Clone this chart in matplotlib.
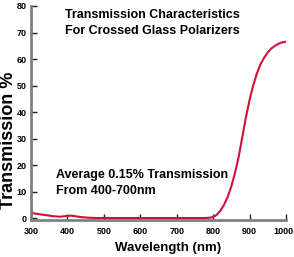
import matplotlib
matplotlib.use("Agg")
import matplotlib.pyplot as plt
from matplotlib.transforms import ScaledTranslation

# values
wavelength = [300, 302, 305, 320, 340, 360, 380, 400, 410, 420, 440, 460, 480,
              500, 600, 700, 780, 790, 800, 810, 820, 830, 840, 850, 860, 870,
              880, 890, 900, 910, 920, 930, 940, 950, 960, 970, 980, 990, 1000]
transmission = [4.5, 2.5, 1.8, 1.5, 1.1, 0.7, 0.5, 0.8, 0.9, 0.7, 0.3, 0.1, 0.0,
                0.0, 0.0, 0.0, 0.0, 0.1, 0.4, 1.2, 2.8, 5.0, 8.0, 12.0, 17.0, 23.0,
                30.5, 38.0, 44.5, 50.0, 54.5, 58.0, 60.5, 62.5, 64.0, 65.0, 65.8, 66.3, 66.5]
x_ticks = [300, 400, 500, 600, 700, 800, 900, 1000]
y_ticks = [0, 10, 20, 30, 40, 50, 60, 70, 80]

FONT = ["Liberation Sans", "DejaVu Sans"]
GRIS = "#808080"
ROUGE = "#d0103a"

def gerar_grafico():
    fig = plt.figure(figsize=(2.94, 2.57), dpi=100)
    ax = fig.add_axes([31 / 294, 37 / 257, 255 / 294, 214 / 257])
    ax.plot(wavelength, transmission, color=ROUGE, linewidth=1.5)
    ax.set_xlim(300, 1000)
    ax.set_ylim(-0.75, 80)

    for lado in ["top", "right"]:
        ax.spines[lado].set_visible(False)
    for lado in ["left", "bottom"]:
        ax.spines[lado].set_color(GRIS)
        ax.spines[lado].set_linewidth(2)

    ax.set_xticks(x_ticks)
    ax.set_yticks(y_ticks)
    ax.set_xticklabels([str(v) for v in x_ticks], family=FONT, fontsize=6.5, fontweight="bold")
    ax.set_yticklabels([str(v) for v in y_ticks], family=FONT, fontsize=6.5, fontweight="bold")
    ax.tick_params(direction="in", length=4, width=1, color="#202020")
    ax.tick_params(axis="x", pad=5)
    ax.tick_params(axis="y", pad=3)

    # the last label sits a bit to the left so it stays inside the picture
    ultimo = ax.get_xticklabels()[-1]
    ultimo.set_transform(ultimo.get_transform() + ScaledTranslation(-3 / 100, 0, fig.dpi_scale_trans))

    ax.set_xlabel("Wavelength (nm)", family=FONT, fontsize=9.5, fontweight="bold", va="center")
    ax.xaxis.set_label_coords(0.537, -0.13)
    ax.set_ylabel("Transmission %", family=FONT, fontsize=13, fontweight="bold", va="center")
    ax.yaxis.set_label_coords(-0.088, 0.374)

    ax.text(0.133, 0.921, "Transmission Characteristics\nFor Crossed Glass Polarizers",
            transform=ax.transAxes, family=FONT, fontsize=9, fontweight="bold",
            va="center", ha="left", linespacing=1.45)
    ax.text(0.098, 0.171, "Average 0.15% Transmission\nFrom 400-700nm",
            transform=ax.transAxes, family=FONT, fontsize=9, fontweight="bold",
            va="center", ha="left", linespacing=1.45)

    fig.savefig("out.png", dpi=100)

if __name__ == "__main__":
    gerar_grafico()
